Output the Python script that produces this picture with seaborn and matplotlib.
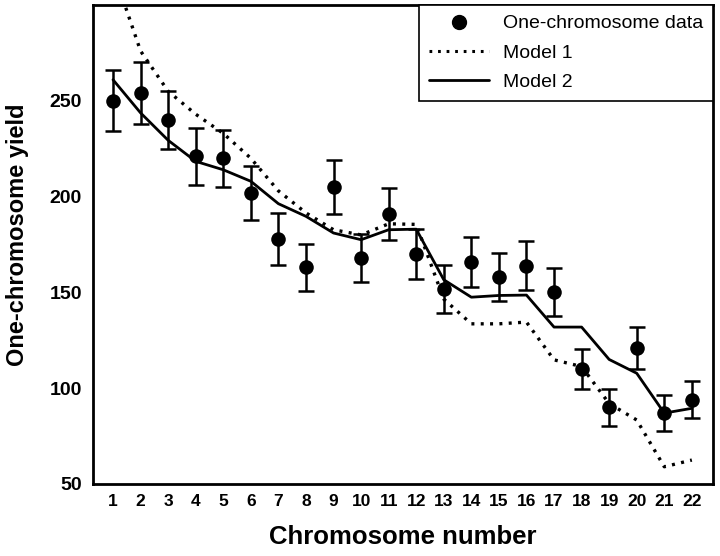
import numpy as np
import pandas as pd
import matplotlib
matplotlib.use("Agg")
import matplotlib.pyplot as plt
from matplotlib.lines import Line2D
from matplotlib.ticker import MultipleLocator
import seaborn as sns

chromosomes = list(range(1, 23))
yield_data = [250, 254, 240, 221, 220, 202, 178, 163, 205, 168, 191,
              170, 152, 166, 158, 164, 150, 110, 90, 121, 87, 94]
yield_err = [16, 16, 15, 15, 15, 14, 13.5, 12.5, 14, 12.7, 13.7,
             13, 12.5, 13, 12.5, 13, 12.5, 10.5, 9.5, 11, 9.4, 9.7]
model1 = [318, 276, 255, 243, 233, 220, 203, 191.5, 182.7, 180, 185.8,
          185.5, 146.5, 133.6, 133.6, 134.5, 114.8, 111.3, 92, 83.4, 59, 62.5]
model2 = [261, 243.7, 229.4, 218.4, 214, 208, 196.3, 189.7, 181, 177.5, 182.7,
          183, 156.6, 147.5, 148.4, 148.6, 131.9, 131.9, 115, 107.8, 87, 89.5]

df = pd.DataFrame({"chrom": chromosomes, "y": yield_data, "err": yield_err,
                   "m1": model1, "m2": model2})

sns.set_theme(style="white")
plt.rcParams["font.family"] = ["Liberation Sans", "DejaVu Sans"]
plt.rcParams["text.color"] = "black"
plt.rcParams["axes.labelcolor"] = "black"

fig = plt.figure(figsize=(7.2, 5.56), dpi=100)
ax = fig.add_axes([0.129, 0.1295, 0.861, 0.8615])

dot_style = (0, (0.9, 1.9))
sns.lineplot(data=df, x="chrom", y="m1", ax=ax, color="black",
             linestyle=dot_style, linewidth=2.4, zorder=2)
sns.lineplot(data=df, x="chrom", y="m2", ax=ax, color="black",
             linewidth=2.0, zorder=3)
ax.errorbar(df["chrom"], df["y"], yerr=df["err"], fmt="none", ecolor="black",
            elinewidth=1.8, capsize=6, capthick=1.8, zorder=4)
sns.scatterplot(data=df, x="chrom", y="y", ax=ax, color="black", s=110,
                edgecolor="black", linewidth=0, zorder=5)

ax.set_xlim(0.27, 22.76)
ax.set_ylim(50, 300)
ax.set_xticks(chromosomes)
ax.set_yticks([50, 100, 150, 200, 250])
ax.yaxis.set_minor_locator(MultipleLocator(25))

for sp in ax.spines.values():
    sp.set_color("black")
    sp.set_linewidth(2.0)

ax.tick_params(axis="both", which="both", direction="in", color="black",
               width=1.8, labelcolor="black")
ax.tick_params(axis="y", which="major", length=8, labelsize=14, pad=8)
ax.tick_params(axis="y", which="minor", length=6)
ax.tick_params(axis="x", which="major", length=5, labelsize=12.5, pad=7)
for lbl in ax.get_xticklabels() + ax.get_yticklabels():
    lbl.set_fontweight("bold")

ax.set_xlabel("Chromosome number", fontsize=18.5, fontweight="bold",
              labelpad=12, color="black")
ax.set_ylabel("One-chromosome yield", fontsize=17, fontweight="bold",
              color="black")
ax.yaxis.set_label_coords(-0.103, 0.52)

handles = [
    Line2D([], [], marker="o", color="black", linestyle="none", markersize=10),
    Line2D([], [], color="black", linestyle=dot_style, linewidth=2.2),
    Line2D([], [], color="black", linewidth=2.0),
]
leg = ax.legend(handles, ["One-chromosome data", "Model 1", "Model 2"],
                loc="upper right", bbox_to_anchor=(1.0, 1.0), fontsize=14,
                frameon=True, fancybox=False, borderaxespad=0, handlelength=3.1,
                handletextpad=0.7, borderpad=0.5, labelspacing=0.6)
leg.get_frame().set_edgecolor("black")
leg.get_frame().set_linewidth(1.2)
leg.get_frame().set_alpha(1)
for t in leg.get_texts():
    t.set_color("black")

fig.savefig("out.png", dpi=100)
